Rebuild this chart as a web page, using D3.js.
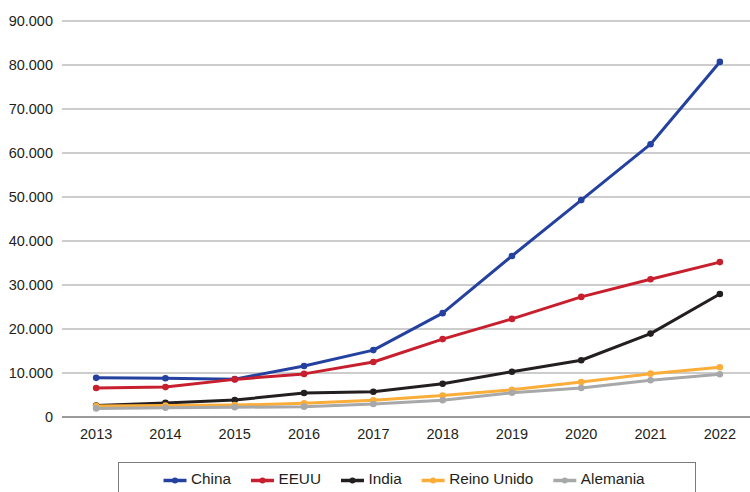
<!DOCTYPE html>
<html>
<head>
<meta charset="utf-8">
<script src="https://cdn.jsdelivr.net/npm/d3@7"></script>
<style>
  body { margin: 0; background: #fff; }
  svg text { font-family: "Liberation Sans", Arial, sans-serif; fill: #231f20; }
</style>
</head>
<body>
<div id="chart"></div>
<script>
// data
let years = ["2013", "2014", "2015", "2016", "2017", "2018", "2019", "2020", "2021", "2022"];
let seriesNames = ["China", "EEUU", "India", "Reino Unido", "Alemania"];
let seriesColors = ["#2441a0", "#c71f2e", "#231f20", "#fbad3a", "#a7a8aa"];
let china = [8900, 8800, 8600, 11600, 15200, 23600, 36600, 49300, 62000, 80700];
let eeuu = [6600, 6800, 8550, 9800, 12500, 17700, 22300, 27300, 31300, 35200];
let india = [2600, 3200, 3850, 5450, 5750, 7550, 10300, 12900, 18950, 27950];
let reinoUnido = [2500, 2600, 2700, 3100, 3800, 4900, 6200, 7950, 9850, 11300];
let alemania = [1950, 2100, 2200, 2350, 2950, 3800, 5500, 6600, 8350, 9700];
let yTicks = [0, 10000, 20000, 30000, 40000, 50000, 60000, 70000, 80000, 90000];

let allSeries = [china, eeuu, india, reinoUnido, alemania];

let width = 750, height = 492;
let margin = {left: 62, right: 0, top: 21, bottom: 75};

let svg = d3.select("#chart").append("svg")
    .attr("width", width)
    .attr("height", height);

let x = d3.scaleBand()
    .domain(years)
    .range([61.5, 61.5 + 69.3 * years.length]);

let y = d3.scaleLinear()
    .domain([0, 90000])
    .range([height - margin.bottom, margin.top]);

let fmt = d => d3.format(",")(d).replace(/,/g, ".");

// grid lines
svg.append("g")
    .selectAll("line")
    .data(yTicks)
    .enter()
    .append("line")
    .attr("x1", margin.left)
    .attr("x2", width)
    .attr("y1", d => y(d))
    .attr("y2", d => y(d))
    .attr("stroke", d => d === 0 ? "#7a7a7a" : "#9a9a9a")
    .attr("stroke-width", d => d === 0 ? 1.6 : 1);

// y labels
svg.append("g")
    .selectAll("text")
    .data(yTicks)
    .enter()
    .append("text")
    .attr("x", 53)
    .attr("y", d => y(d))
    .attr("dy", "0.35em")
    .attr("text-anchor", "end")
    .style("font-size", "14.5px")
    .text(fmt);

// x labels
svg.append("g")
    .selectAll("text")
    .data(years)
    .enter()
    .append("text")
    .attr("x", d => x(d) + x.bandwidth() / 2)
    .attr("y", 439)
    .attr("text-anchor", "middle")
    .style("font-size", "14.5px")
    .text(d => d);

let line = d3.line()
    .x((d, i) => x(years[i]) + x.bandwidth() / 2)
    .y(d => y(d));

allSeries.forEach((values, s) => {
    let g = svg.append("g").attr("class", "series");
    g.append("path")
        .datum(values)
        .attr("d", line)
        .attr("fill", "none")
        .attr("stroke", seriesColors[s])
        .attr("stroke-width", 3)
        .attr("stroke-linejoin", "round");
    g.selectAll("circle")
        .data(values)
        .enter()
        .append("circle")
        .attr("cx", (d, i) => x(years[i]) + x.bandwidth() / 2)
        .attr("cy", d => y(d))
        .attr("r", 3.3)
        .attr("fill", seriesColors[s]);
});

////////// legend //////////
let legend = svg.append("g").attr("class", "legend");
legend.append("rect")
    .attr("x", 118.5)
    .attr("y", 462.5)
    .attr("width", 577)
    .attr("height", 40)
    .attr("fill", "none")
    .attr("stroke", "#7a7a7a")
    .attr("stroke-width", 1);

let lx = 163.5;
seriesNames.forEach((name, s) => {
    let item = legend.append("g").attr("transform", "translate(" + lx + ",480.5)");
    item.append("line")
        .attr("x1", 0).attr("x2", 23)
        .attr("stroke", seriesColors[s])
        .attr("stroke-width", 3.5);
    item.append("circle")
        .attr("cx", 11.5)
        .attr("r", 3)
        .attr("fill", seriesColors[s]);
    let t = item.append("text")
        .attr("x", 27.5)
        .attr("y", 3)
        .style("font-size", "15.3px")
        .text(name);
    lx += 27.5 + t.node().getComputedTextLength() + 20;
});
</script>
</body>
</html>
